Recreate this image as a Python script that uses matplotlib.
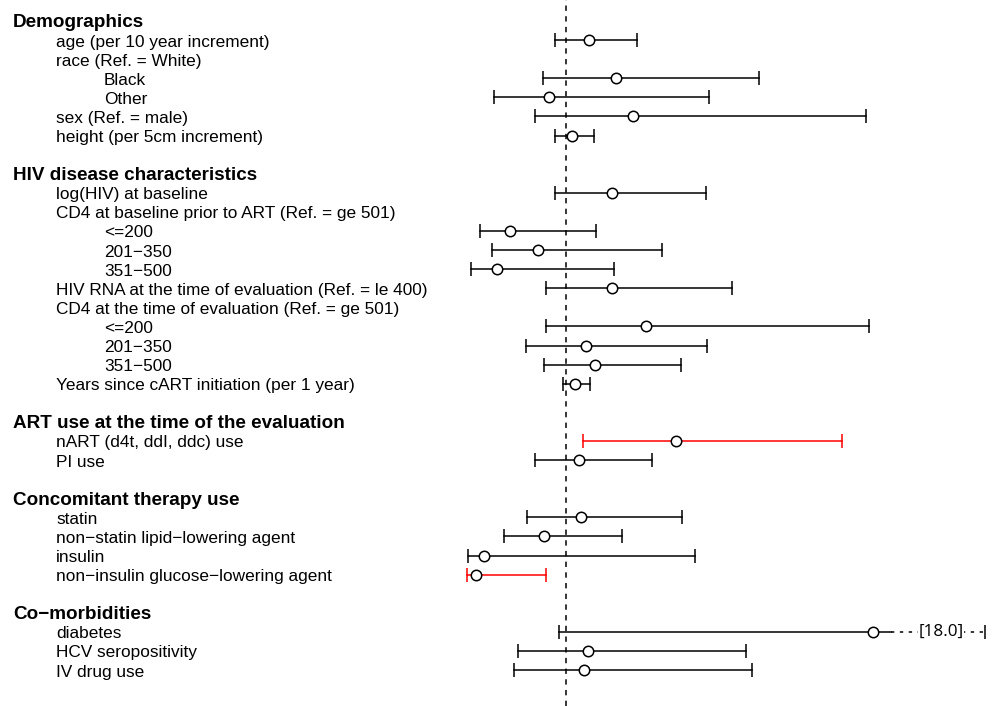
import numpy as np
import matplotlib.pyplot as plt

plt.rcParams['font.family'] = ['Liberation Sans', 'DejaVu Sans']

labels = ["Demographics", "age (per 10 year increment)", "race (Ref. = White)", "Black", "Other",
          "sex (Ref. = male)", "height (per 5cm increment)", "",
          "HIV disease characteristics", "log(HIV) at baseline",
          "CD4 at baseline prior to ART (Ref. = ge 501)", "<=200", "201\u2212350", "351\u2212500",
          "HIV RNA at the time of evaluation (Ref. = le 400)",
          "CD4 at the time of evaluation (Ref. = ge 501)", "<=200", "201\u2212350", "351\u2212500",
          "Years since cART initiation (per 1 year)", "",
          "ART use at the time of the evaluation", "nART (d4t, ddI, ddc) use", "PI use", "",
          "Concomitant therapy use", "statin", "non\u2212statin lipid\u2212lowering agent", "insulin",
          "non\u2212insulin glucose\u2212lowering agent", "",
          "Co\u2212morbidities", "diabetes", "HCV seropositivity", "IV drug use"]
# 0 = heading, 1 = item, 2 = sub item, -1 = blank
levels = [0, 1, 1, 2, 2, 1, 1, -1,
          0, 1, 1, 2, 2, 2, 1, 1, 2, 2, 2, 1, -1,
          0, 1, 1, -1,
          0, 1, 1, 1, 1, -1,
          0, 1, 1, 1]
nan = np.nan
est = [nan, 1.23, nan, 1.50, 0.83, 1.67, 1.06, nan,
       nan, 1.46, nan, 0.44, 0.72, 0.31, 1.46, nan, 1.80, 1.20, 1.29, 1.09, nan,
       nan, 2.10, 1.13, nan,
       nan, 1.15, 0.78, 0.18, 0.10, nan,
       nan, 4.07, 1.22, 1.18]
low = [nan, 0.89, nan, 0.77, 0.28, 0.69, 0.89, nan,
       nan, 0.89, nan, 0.14, 0.26, 0.05, 0.80, nan, 0.80, 0.60, 0.78, 0.97, nan,
       nan, 1.17, 0.69, nan,
       nan, 0.61, 0.38, 0.015, 0.01, nan,
       nan, 0.93, 0.52, 0.48]
high = [nan, 1.71, nan, 2.93, 2.43, 4.00, 1.28, nan,
        nan, 2.40, nan, 1.30, 1.96, 1.48, 2.66, nan, 4.03, 2.41, 2.15, 1.24, nan,
        nan, 3.76, 1.86, nan,
        nan, 2.16, 1.56, 2.29, 0.80, nan,
        nan, 18.0, 2.80, 2.86]

clip = 5.19     # right edge of the drawn range
brk = 4.25      # start of the dashed part for truncated intervals

fig = plt.figure(figsize=(9.99, 7.06), dpi=100)
ax = fig.add_axes([0, 0, 1, 1])
ax.set_xlim(-4.663, 5.327)
ax.set_ylim(35.88, -1.1)
ax.axis("off")

ax.axvline(1, color="black", lw=1.1, ls=(0, (3.5, 3.5)), zorder=1)

indent = {0: 13 / 999, 1: 56 / 999, 2: 104 / 999}
trans = ax.get_yaxis_transform()
for i, (lab, lev) in enumerate(zip(labels, levels)):
    if lev < 0:
        continue
    if lev == 0:
        ax.text(indent[0], i + 0.1, lab, transform=trans, fontsize=13.6, fontweight="bold",
                va="center", ha="left")
    else:
        ax.text(indent[lev], i + 0.1, lab, transform=trans, fontsize=12.4, va="center", ha="left")

for i in range(len(labels)):
    if np.isnan(est[i]):
        continue
    col = "red" if (low[i] > 1 or high[i] < 1) else "black"
    lo, hi = low[i], high[i]
    if hi > clip:
        ax.plot([lo, brk], [i, i], color=col, lw=1.1, zorder=2)
        ax.plot([brk, clip], [i, i], color=col, lw=1.1, ls=(0, (2.2, 3.6)), zorder=2)
        ax.text((brk + clip) / 2 + 0.03, i, "[%.1f]" % hi, fontsize=12.3, family="Open Sans",
                va="center", ha="center",
                bbox=dict(facecolor="white", edgecolor="none", pad=0.3), zorder=3)
        ends = [lo, clip]
    else:
        ax.plot([lo, hi], [i, i], color=col, lw=1.1, zorder=2)
        ends = [lo, hi]
    ax.plot(ends, [i, i], ls="none", marker="|", ms=10, mew=1.1, color=col, zorder=2)
    ax.plot(est[i], i, marker="o", ms=7.5, mfc="white", mec="black", mew=1.1, zorder=4)

plt.savefig("out.png", dpi=100)
